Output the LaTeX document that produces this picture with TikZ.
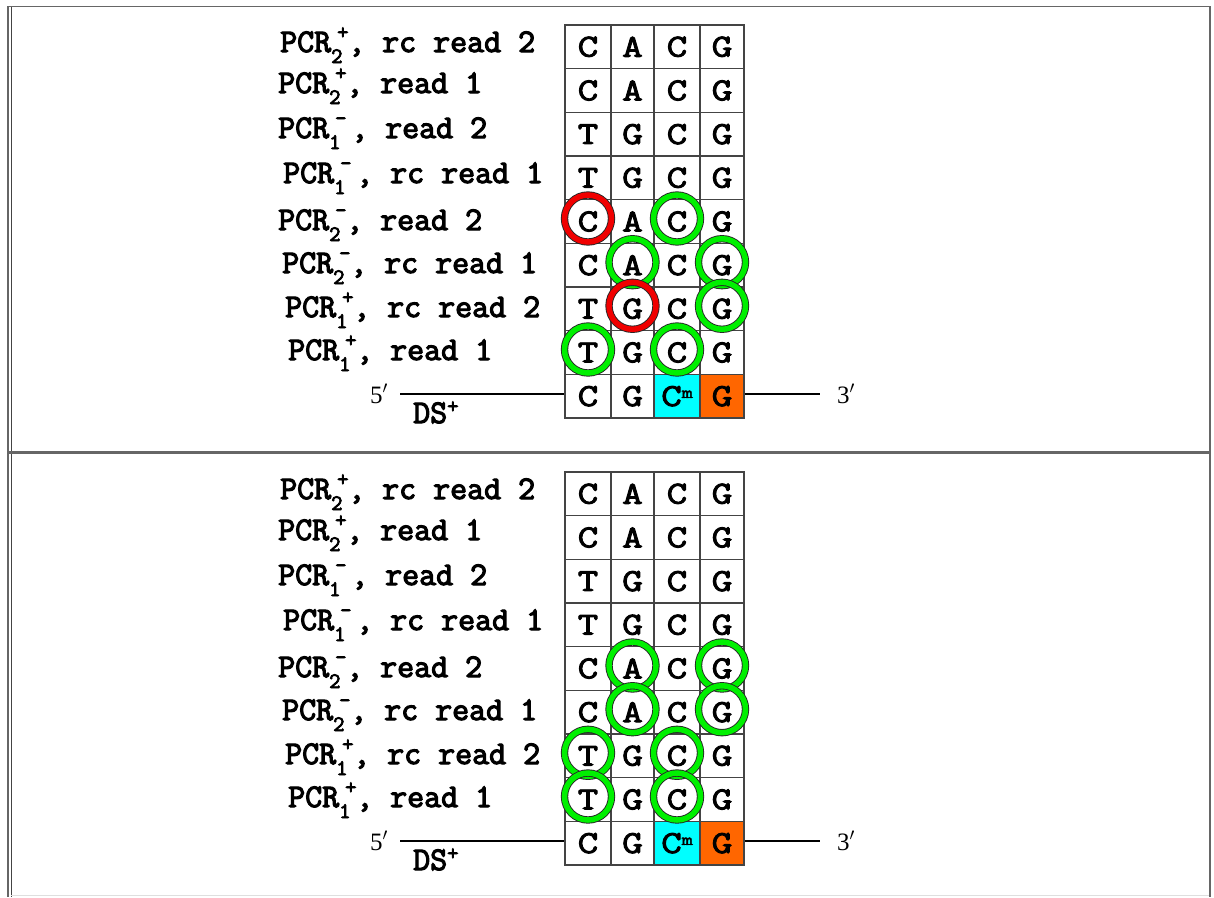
\documentclass[tikz,border=0pt]{standalone}
\usepackage{fontspec}
\setmainfont{Liberation Serif}
\newfontfamily\cour{Latin Modern Mono}[FakeBold=3.5]
\newfontfamily\courg{Latin Modern Mono}[FakeBold=3,FakeStretch=1.25]
\definecolor{gridc}{HTML}{444444}
\definecolor{framec}{HTML}{666666}
\definecolor{ringgreen}{HTML}{00F000}
\definecolor{ringred}{HTML}{F00000}
\definecolor{cmcyan}{HTML}{00FFFF}
\definecolor{gorange}{HTML}{FF6600}
\newcommand\subf{\fontsize{22}{22}\selectfont}
\newcommand\pcr[3][17pt]{PCR\makebox[#1][l]{\rlap{\hspace{0pt}\raisebox{-11pt}{\subf #2}}\hspace{6pt}\raisebox{13pt}{\subf #3}}}
\newcommand\drawpanel[1]{%
  \foreach \r/\y/\a/\b/\c/\d in {1/46.8/C/A/C/G, 2/90.5/C/A/C/G, 3/134.2/T/G/C/G, 4/177.8/T/G/C/G, 5/221.5/C/A/C/G, 6/265.2/C/A/C/G, 7/308.8/T/G/C/G, 8/352.5/T/G/C/G}{
    \node[cell, minimum width=46pt] (#1r\r c1) at (588,\y) {\a};
    \node[cell, minimum width=43pt] (#1r\r c2) at (632.5,\y) {\b};
    \node[cell, minimum width=46pt] (#1r\r c3) at (677,\y) {\c};
    \node[cell, minimum width=44pt] (#1r\r c4) at (722,\y) {\d};
  }
  \node[cell, minimum width=46pt] (#1r9c1) at (588,396.2) {C};
  \node[cell, minimum width=43pt] (#1r9c2) at (632.5,396.2) {G};
  \node[cell, minimum width=46pt, fill=cmcyan] (#1r9c3) at (677,396.2) {C\raisebox{8pt}{\fontsize{17}{17}\selectfont m}};
  \node[cell, minimum width=44pt, fill=gorange] (#1r9c4) at (722,396.2) {G};
  \node[lab] (#1l1) at (280,52) {\pcr{2}{+}, rc read 2};
  \node[lab] (#1l2) at (278,93) {\pcr{2}{+}, read 1};
  \node[lab] (#1l3) at (278,138) {\pcr[22pt]{1}{-}, read 2};
  \node[lab] (#1l4) at (283,183) {\pcr[22pt]{1}{-}, rc read 1};
  \node[lab] (#1l5) at (278,230) {\pcr{2}{-}, read 2};
  \node[lab] (#1l6) at (282,273) {\pcr{2}{-}, rc read 1};
  \node[lab] (#1l7) at (285,317) {\pcr{1}{+}, rc read 2};
  \node[lab] (#1l8) at (288,360) {\pcr{1}{+}, read 1};
  \coordinate (#1p5) at (400,394);
  \coordinate (#1p3) at (820,394);
  \draw[backbone] (#1p5) -- (#1p5 -| #1r9c1.west);
  \draw[backbone] (#1p3 -| #1r9c4.east) -- (#1p3);
  \node[endlab] (#1five) at (370,403) {5$^{\prime}$};
  \node[endlab] (#1three) at (837,403) {3$^{\prime}$};
  \node[lab] (#1ds) at (413,423) {DS\raisebox{10pt}{\subf +}};
}
\begin{document}
\begin{tikzpicture}[x=1pt,y=-1pt,
  lab/.style={font=\cour\fontsize{33}{33}\selectfont, inner sep=0pt, anchor=base west},
  cell/.style={draw=gridc, line width=1.5pt, minimum height=43.67pt, inner sep=0pt, font=\courg\fontsize{32}{32}\selectfont},
  gring/.style={draw=black!85, line width=0.9pt, double=ringgreen, double distance=5.5pt},
  rring/.style={draw=black!85, line width=0.9pt, double=ringred, double distance=5.5pt},
  backbone/.style={line width=2pt, draw=black},
  endlab/.style={font=\fontsize{25}{25}\selectfont, inner sep=0pt, anchor=base west}]
\fill[white] (0,0) rectangle (1214,897);
\useasboundingbox (0,0) rectangle (1214,897);
% frame
\draw[line width=2pt, draw=framec] (8,6) -- (8,897);
\draw[line width=1pt, draw=gridc] (11,6) -- (11,897);
\draw[line width=1.5pt, draw=framec] (7,6.5) -- (1211,6.5);
\draw[line width=2pt, draw=framec] (1209.5,6) -- (1209.5,897);
\draw[line width=3pt, draw=framec] (7,452) -- (1211,452);
\draw[line width=1.5pt, draw=gray!25] (11,895.5) -- (1209,895.5);
% top panel
\drawpanel{t}
\draw[rring] ([yshift=3pt]tr5c1.center) circle[radius=23.5pt];
\draw[gring] ([yshift=3pt]tr5c3.center) circle[radius=23.5pt];
\draw[gring] ([yshift=3pt]tr6c2.center) circle[radius=23.5pt];
\draw[gring] ([yshift=3pt]tr6c4.center) circle[radius=23.5pt];
\draw[rring] ([yshift=3pt]tr7c2.center) circle[radius=23.5pt];
\draw[gring] ([yshift=3pt]tr7c4.center) circle[radius=23.5pt];
\draw[gring] ([yshift=3pt]tr8c1.center) circle[radius=23.5pt];
\draw[gring] ([yshift=3pt]tr8c3.center) circle[radius=23.5pt];
% bottom panel
\begin{scope}[yshift=-447pt]
\drawpanel{b}
\end{scope}
\draw[gring] ([yshift=3pt]br5c2.center) circle[radius=23.5pt];
\draw[gring] ([yshift=3pt]br5c4.center) circle[radius=23.5pt];
\draw[gring] ([yshift=3pt]br6c2.center) circle[radius=23.5pt];
\draw[gring] ([yshift=3pt]br6c4.center) circle[radius=23.5pt];
\draw[gring] ([yshift=3pt]br7c1.center) circle[radius=23.5pt];
\draw[gring] ([yshift=3pt]br7c3.center) circle[radius=23.5pt];
\draw[gring] ([yshift=3pt]br8c1.center) circle[radius=23.5pt];
\draw[gring] ([yshift=3pt]br8c3.center) circle[radius=23.5pt];
\end{tikzpicture}
\end{document}
